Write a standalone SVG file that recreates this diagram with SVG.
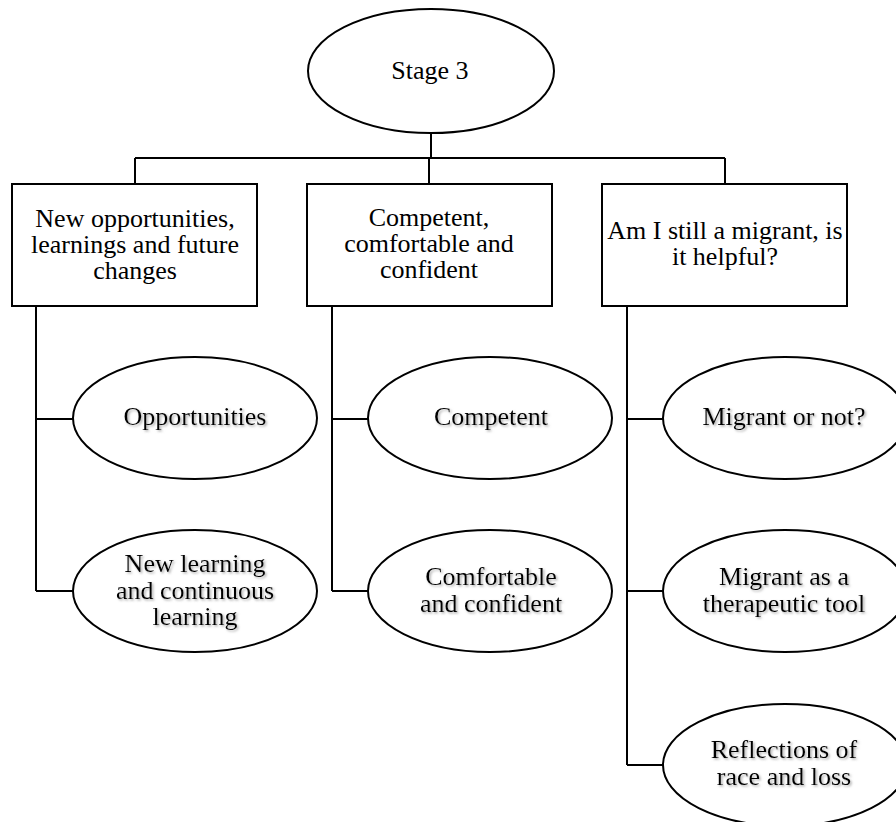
<svg xmlns="http://www.w3.org/2000/svg" width="896" height="822" viewBox="0 0 896 822">
<defs>
<filter id="sh" x="-10%" y="-20%" width="120%" height="150%">
<feDropShadow dx="1.5" dy="1.5" stdDeviation="1" flood-color="#888" flood-opacity="0.7"/>
</filter>
</defs>
<style>
.s{fill:#fff;stroke:#000;stroke-width:2}
.c{fill:none;stroke:#000;stroke-width:2}
text{font-family:"Liberation Serif","Times New Roman",serif;font-size:26px;fill:#000;text-anchor:middle}
.sub text{filter:url(#sh)}
</style>
<rect width="896" height="822" fill="#fff"/>
<g id="connectors">
<path class="c" d="M431 132V158M135 158H725M135 158V184M429 158V184M725 158V184"/>
<path class="c" d="M36 306V591M36 419H73M36 591H73"/>
<path class="c" d="M332 306V591M332 419H368M332 591H368"/>
<path class="c" d="M627 306V765M627 419H663M627 591H663M627 765H663"/>
</g>
<g id="stage3"><ellipse class="s" cx="431" cy="71" rx="123" ry="62"/><text x="430" y="79">Stage 3</text></g>
<g id="box1"><rect class="s" x="12" y="184" width="245" height="122"/><text x="135" y="227">New opportunities,</text><text x="135" y="253">learnings and future</text><text x="135" y="279">changes</text></g>
<g id="box2"><rect class="s" x="307" y="184" width="245" height="122"/><text x="429" y="226">Competent,</text><text x="429" y="252">comfortable and</text><text x="429" y="278">confident</text></g>
<g id="box3"><rect class="s" x="602" y="184" width="245" height="122"/><text x="725" y="239">Am I still a migrant, is</text><text x="725" y="265">it helpful?</text></g>
<g id="opportunities" class="sub"><ellipse class="s" cx="195" cy="418" rx="122" ry="61"/><text x="195" y="425">Opportunities</text></g>
<g id="newlearning" class="sub"><ellipse class="s" cx="195" cy="591" rx="122" ry="61"/><text x="195" y="572">New learning</text><text x="195" y="599">and continuous</text><text x="195" y="625">learning</text></g>
<g id="competent" class="sub"><ellipse class="s" cx="490" cy="418" rx="122" ry="61"/><text x="491" y="425">Competent</text></g>
<g id="comfortable" class="sub"><ellipse class="s" cx="490" cy="591" rx="122" ry="61"/><text x="491" y="585">Comfortable</text><text x="491" y="612">and confident</text></g>
<g id="migrantornot" class="sub"><ellipse class="s" cx="785" cy="418" rx="122" ry="61"/><text x="784" y="425">Migrant or not?</text></g>
<g id="therapeutic" class="sub"><ellipse class="s" cx="785" cy="591" rx="122" ry="61"/><text x="784" y="585">Migrant as a</text><text x="784" y="612">therapeutic tool</text></g>
<g id="reflections" class="sub"><ellipse class="s" cx="785" cy="765" rx="122" ry="61"/><text x="784" y="758">Reflections of</text><text x="784" y="785">race and loss</text></g>
</svg>
